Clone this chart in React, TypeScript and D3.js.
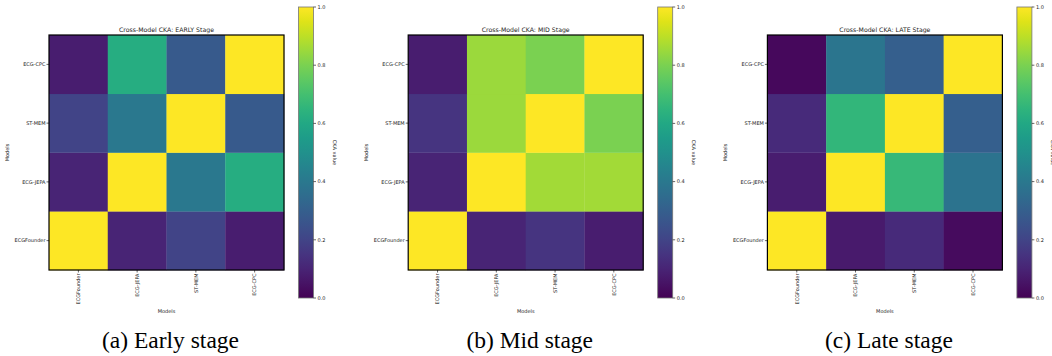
import * as d3 from 'd3'

const models = ['ECGFounder', 'ECG-JEPA', 'ST-MEM', 'ECG-CPC']
const stages = ['EARLY', 'MID', 'LATE']
const captions = ['(a) Early stage', '(b) Mid stage', '(c) Late stage']
const cbarTicks = [0, 0.2, 0.4, 0.6, 0.8, 1.0]

// rows follow models order (ECGFounder at the bottom, origin lower)
const early = [
  [1.0, 0.1, 0.2, 0.08],
  [0.1, 1.0, 0.4, 0.62],
  [0.2, 0.4, 1.0, 0.28],
  [0.08, 0.62, 0.28, 1.0],
]
const mid = [
  [1.0, 0.1, 0.15, 0.08],
  [0.1, 1.0, 0.86, 0.86],
  [0.15, 0.85, 1.0, 0.8],
  [0.08, 0.85, 0.8, 1.0],
]
const late = [
  [1.0, 0.07, 0.12, 0.03],
  [0.08, 1.0, 0.67, 0.38],
  [0.12, 0.66, 1.0, 0.3],
  [0.02, 0.39, 0.3, 1.0],
]
const matrices = [early, mid, late]

const W = 1052
const H = 356
const panelStep = 359.2
const hmLeft = 49
const hmTop = 35
const hmSize = 235
const cbLeft = 298.5
const cbTop = 7
const cbBottom = 298
const cbWidth = 15

const color = d3.scaleSequential(d3.interpolateViridis).domain([0, 1])
const font = 'DejaVu Sans, sans-serif'

const Panel = ({ idx }: { idx: number }) => {
  const data = matrices[idx]
  const x = d3.scaleBand().domain(models).range([hmLeft, hmLeft + hmSize])
  const y = d3.scaleBand().domain(models).range([hmTop + hmSize, hmTop])
  const cb = d3.scaleLinear().domain([0, 1]).range([cbBottom, cbTop])
  const cells = data.flatMap((row, i) =>
    row.map((v, j) => ({ r: models[i], c: models[j], v }))
  )
  const cx = hmLeft + hmSize / 2

  return (
    <g transform={`translate(${idx * panelStep},0)`}>
      <text x={cx} y={32} fontSize="6.2" textAnchor="middle" fontFamily={font} fill="#222">
        Cross-Model CKA: {stages[idx]} Stage
      </text>
      {cells.map(d => (
        <rect
          key={d.r + d.c}
          x={x(d.c)}
          y={y(d.r)}
          width={x.bandwidth() + 0.3}
          height={y.bandwidth() + 0.3}
          fill={color(d.v)}
        />
      ))}
      <rect x={hmLeft} y={hmTop} width={hmSize} height={hmSize} fill="none" stroke="#000" strokeWidth="1.2" />
      {models.map(m => (
        <g key={'y' + m}>
          <line
            x1={hmLeft - 2.5}
            x2={hmLeft}
            y1={y(m)! + y.bandwidth() / 2}
            y2={y(m)! + y.bandwidth() / 2}
            stroke="#000"
            strokeWidth="0.6"
          />
          <text
            x={hmLeft - 3.5}
            y={y(m)! + y.bandwidth() / 2}
            dy="0.35em"
            fontSize="5"
            textAnchor="end"
            fontFamily={font}
            fill="#222"
          >
            {m}
          </text>
        </g>
      ))}
      {models.map(m => {
        const px = x(m)! + x.bandwidth() / 2
        return (
          <g key={'x' + m}>
            <line x1={px} x2={px} y1={hmTop + hmSize} y2={hmTop + hmSize + 2.5} stroke="#000" strokeWidth="0.6" />
            <text
              transform={`translate(${px},${hmTop + hmSize + 3.5}) rotate(-90)`}
              dy="0.35em"
              fontSize="5"
              textAnchor="end"
              fontFamily={font}
              fill="#222"
            >
              {m}
            </text>
          </g>
        )
      })}
      <text x={cx} y={313} fontSize="5" textAnchor="middle" fontFamily={font} fill="#222">
        Models
      </text>
      <text
        transform={`translate(9,${hmTop + hmSize / 2}) rotate(-90)`}
        fontSize="5"
        textAnchor="middle"
        fontFamily={font}
        fill="#222"
      >
        Models
      </text>
      <rect x={cbLeft} y={cbTop} width={cbWidth} height={cbBottom - cbTop} fill="url(#viridis)" stroke="#777" strokeWidth="0.8" />
      {cbarTicks.map(t => (
        <g key={t} transform={`translate(${cbLeft + cbWidth},${cb(t)})`}>
          <line x1={0} x2={2.5} stroke="#000" strokeWidth="0.6" />
          <text x={4} dy="0.35em" fontSize="5" fontFamily={font} fill="#222">
            {t.toFixed(1)}
          </text>
        </g>
      ))}
      <text
        transform={`translate(${cbLeft + 34},${(cbTop + cbBottom) / 2}) rotate(90)`}
        fontSize="5"
        textAnchor="middle"
        fontFamily={font}
        fill="#222"
      >
        CKA value
      </text>
      <text
        x={cx + 4}
        y={348}
        fontSize="23.5"
        textAnchor="middle"
        fontFamily="Liberation Serif, Times New Roman, serif"
        fill="#000"
      >
        {captions[idx]}
      </text>
    </g>
  )
}

export default function App() {
  const stops = d3.range(0, 1.0001, 0.05)
  return (
    <div style={{ position: 'absolute', left: 0, top: 0, width: W, height: H, background: '#fff' }}>
      <svg width={W} height={H} viewBox={`0 0 ${W} ${H}`} style={{ display: 'block' }}>
        <defs>
          <linearGradient id="viridis" x1="0" y1="1" x2="0" y2="0">
            {stops.map(s => (
              <stop key={s} offset={`${s * 100}%`} stopColor={color(s)} />
            ))}
          </linearGradient>
        </defs>
        <rect width={W} height={H} fill="#fff" />
        {stages.map((s, i) => (
          <Panel key={s} idx={i} />
        ))}
      </svg>
    </div>
  )
}
